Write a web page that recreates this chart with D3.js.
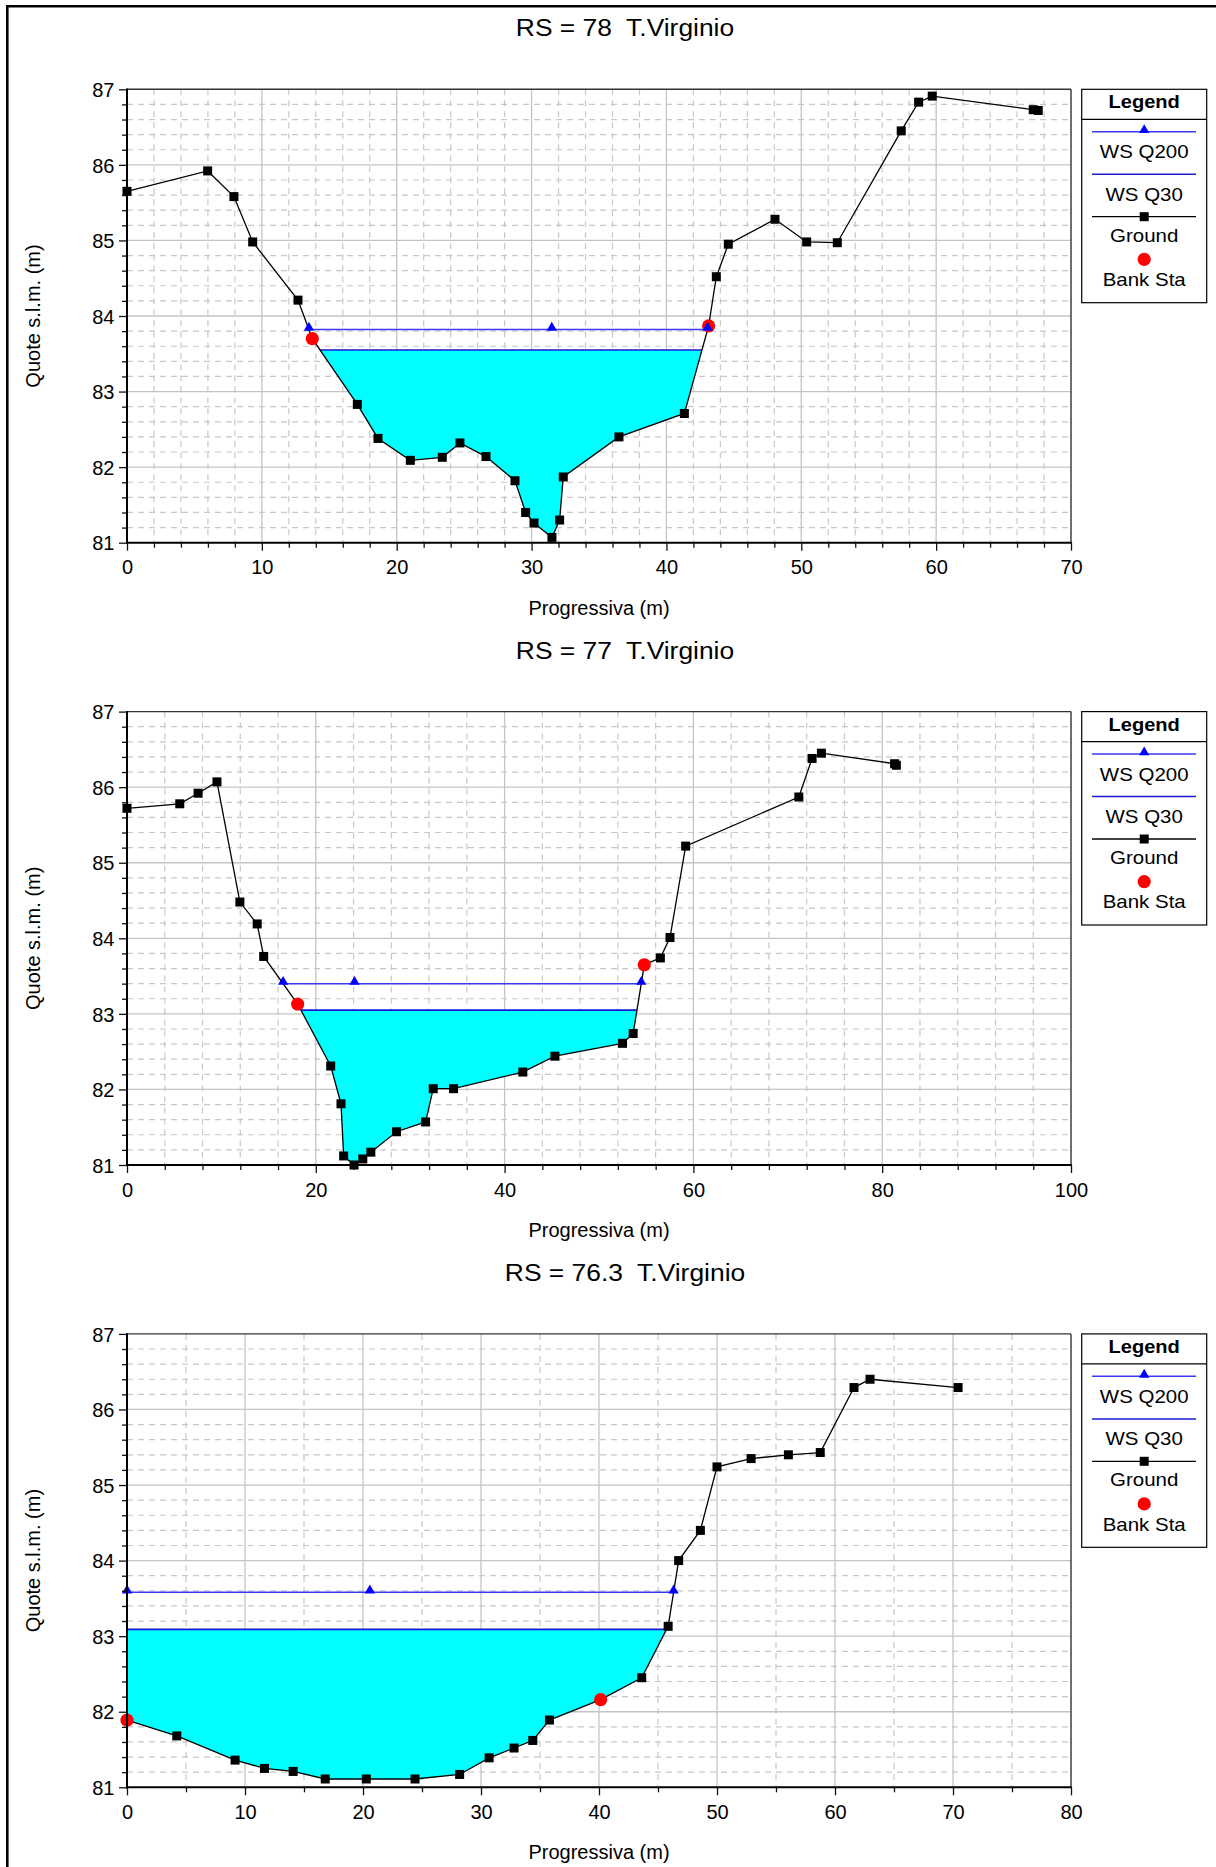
<!DOCTYPE html>
<html>
<head>
<meta charset="utf-8">
<script src="https://cdn.jsdelivr.net/npm/d3@7"></script>
<style>
  html, body { margin: 0; padding: 0; background: #fff; }
  svg { display: block; font-family: "Liberation Sans", Arial, sans-serif; }
  .keep-spaces { white-space: pre; }
</style>
</head>
<body>
<svg id="chart" width="1216" height="1867"></svg>
<script>
// ---- Cross section RS = 78 ----
const rs78Station = [0, 5.98, 7.93, 9.32, 12.68, 13.74, 17.08, 18.61, 21.01, 23.38, 24.69, 26.62, 28.77, 29.56, 30.18, 31.51, 32.08, 32.35, 36.48, 41.33, 43.13, 43.70, 44.59, 48.05, 50.40, 52.67, 57.41, 58.70, 59.71, 67.20, 67.57];
const rs78Ground  = [85.65, 85.92, 85.58, 84.98, 84.21, 83.70, 82.83, 82.38, 82.09, 82.13, 82.32, 82.14, 81.82, 81.40, 81.26, 81.07, 81.30, 81.87, 82.40, 82.71, 83.87, 84.52, 84.95, 85.28, 84.98, 84.97, 86.45, 86.83, 86.91, 86.73, 86.72];
const rs78Banks = [13.74, 43.13];
const rs78WsQ200 = 83.82;
const rs78WsQ30 = 83.55;
const rs78Q200Mid = 31.5;
const rs78StationTicks = [0, 10, 20, 30, 40, 50, 60, 70];

// ---- Cross section RS = 77 ----
const rs77Station = [0, 5.59, 7.53, 9.53, 11.96, 13.79, 14.48, 18.08, 21.58, 22.67, 22.95, 24.05, 24.98, 25.83, 28.55, 31.63, 32.44, 34.59, 41.93, 45.33, 52.49, 53.62, 54.80, 56.50, 57.52, 59.18, 71.17, 72.57, 73.56, 81.31, 81.50];
const rs77Ground  = [85.72, 85.78, 85.92, 86.07, 84.48, 84.19, 83.76, 83.13, 82.31, 81.81, 81.12, 81.00, 81.08, 81.17, 81.44, 81.57, 82.01, 82.01, 82.23, 82.44, 82.61, 82.74, 83.65, 83.74, 84.01, 85.22, 85.87, 86.38, 86.45, 86.31, 86.29];
const rs77Banks = [18.08, 54.80];
const rs77WsQ200 = 83.40;
const rs77WsQ30 = 83.05;
const rs77Q200Mid = 24.1;
const rs77StationTicks = [0, 20, 40, 60, 80, 100];

// ---- Cross section RS = 76.3 ----
const rs763Station = [0, 4.22, 9.16, 11.65, 14.08, 16.80, 20.28, 24.41, 28.19, 30.69, 32.80, 34.39, 35.80, 40.14, 43.62, 45.86, 46.75, 48.59, 50.00, 52.89, 56.05, 58.75, 61.61, 62.97, 70.43];
const rs763Ground  = [81.89, 81.68, 81.36, 81.25, 81.21, 81.11, 81.11, 81.11, 81.17, 81.39, 81.52, 81.62, 81.89, 82.16, 82.45, 83.13, 84.00, 84.40, 85.24, 85.35, 85.40, 85.43, 86.29, 86.40, 86.29];
const rs763Banks = [0, 40.14];
const rs763WsQ200 = 83.58;
const rs763WsQ30 = 83.09;
const rs763Q200Mid = 20.58;
const rs763StationTicks = [0, 10, 20, 30, 40, 50, 60, 70, 80];

// ---- Shared axis values and legend entries ----
const elevationTicks = [81, 82, 83, 84, 85, 86, 87];
const legendLabels = ["WS Q200", "WS Q30", "Ground", "Bank Sta"];

const sections = [
  { title: "RS = 78  T.Virginio",   sta: rs78Station,  z: rs78Ground,  banks: rs78Banks,  q200: rs78WsQ200,  q30: rs78WsQ30,  mid: rs78Q200Mid,  ticks: rs78StationTicks,  minorStep: 2 },
  { title: "RS = 77  T.Virginio",   sta: rs77Station,  z: rs77Ground,  banks: rs77Banks,  q200: rs77WsQ200,  q30: rs77WsQ30,  mid: rs77Q200Mid,  ticks: rs77StationTicks,  minorStep: 4 },
  { title: "RS = 76.3  T.Virginio", sta: rs763Station, z: rs763Ground, banks: rs763Banks, q200: rs763WsQ200, q30: rs763WsQ30, mid: rs763Q200Mid, ticks: rs763StationTicks, minorStep: 5 }
];

const svg = d3.select("#chart");
const W = 1216, H = 1867;

// page frame (left and top rules)
svg.append("line").attr("x1", 7.3).attr("x2", 7.3).attr("y1", 5).attr("y2", H)
  .attr("stroke", "#000").attr("stroke-width", 2.6);
svg.append("line").attr("x1", 6).attr("x2", W).attr("y1", 6.2).attr("y2", 6.2)
  .attr("stroke", "#000").attr("stroke-width", 2.6);

const plotLeft = 127, plotRight = 1071;
const firstTop = 89.3, plotH = 453.4, pitch = 622.3;
const legendX = 1081.7, legendW = 125, legendH = 213.4;

const COL = {
  grid: "#c4c4c4", minor: "#c8c8c8", water: "#00ffff",
  q200: "#3a3af5", q30: "#1818d8", marker: "#0000ff", bank: "#ff0000"
};
const SQ = 9;       // ground marker side
const BANK_R = 6.6; // bank station marker radius

// wetted extent of a water level over the ground profile, searched outward from the thalweg
function wetExtent(sta, z, ws) {
  const iMin = d3.minIndex(z);
  let iL = iMin, iR = iMin, xL, xR;
  while (iL > 0 && z[iL - 1] < ws) iL--;
  if (iL === 0) xL = sta[0];
  else { const t = (ws - z[iL - 1]) / (z[iL] - z[iL - 1]); xL = sta[iL - 1] + t * (sta[iL] - sta[iL - 1]); }
  while (iR < z.length - 1 && z[iR + 1] < ws) iR++;
  if (iR === z.length - 1) xR = sta[z.length - 1];
  else { const t = (ws - z[iR]) / (z[iR + 1] - z[iR]); xR = sta[iR] + t * (sta[iR + 1] - sta[iR]); }
  return { iL, iR, xL, xR };
}

function groundAt(sta, z, x) {
  return d3.scaleLinear().domain(sta).range(z)(x);
}

const triangle = d3.symbol().type(d3.symbolTriangle).size(46);

sections.forEach((s, k) => {
  const top = firstTop + k * pitch, bottom = top + plotH;
  const xMax = s.ticks[s.ticks.length - 1];
  const x = d3.scaleLinear().domain([0, xMax]).range([plotLeft, plotRight]);
  const y = d3.scaleLinear().domain([81, 87]).range([bottom, top]);
  const g = svg.append("g");

  // title
  g.append("text").attr("class", "keep-spaces")
    .attr("transform", `translate(${625},${top - 53}) scale(1.1,1)`)
    .attr("text-anchor", "middle").attr("font-size", 24).attr("fill", "#000")
    .text(s.title);

  // minor grid
  const xMinor = d3.range(0, xMax + 1e-9, s.minorStep).filter(v => !s.ticks.includes(v));
  const yMinor = d3.range(81, 87.0001, 0.2).map(v => +v.toFixed(1)).filter(v => !elevationTicks.includes(v));
  g.selectAll(".vminor").data(xMinor).join("line")
    .attr("x1", d => x(d)).attr("x2", d => x(d)).attr("y1", top).attr("y2", bottom)
    .attr("stroke", COL.minor).attr("stroke-width", 1.2).attr("stroke-dasharray", "6,5");
  g.selectAll(".hminor").data(yMinor).join("line")
    .attr("x1", plotLeft).attr("x2", plotRight).attr("y1", d => y(d)).attr("y2", d => y(d))
    .attr("stroke", COL.minor).attr("stroke-width", 1.2).attr("stroke-dasharray", "6,5");
  // major grid
  g.selectAll(".vmajor").data(s.ticks.slice(1, -1)).join("line")
    .attr("x1", d => x(d)).attr("x2", d => x(d)).attr("y1", top).attr("y2", bottom)
    .attr("stroke", COL.grid).attr("stroke-width", 1.3);
  g.selectAll(".hmajor").data(elevationTicks.slice(1, -1)).join("line")
    .attr("x1", plotLeft).attr("x2", plotRight).attr("y1", d => y(d)).attr("y2", d => y(d))
    .attr("stroke", COL.grid).attr("stroke-width", 1.3);

  // water fill for WS Q30
  const w30 = wetExtent(s.sta, s.z, s.q30);
  const poly = [[w30.xL, s.q30]];
  for (let i = w30.iL; i <= w30.iR; i++) poly.push([s.sta[i], s.z[i]]);
  poly.push([w30.xR, s.q30]);
  g.append("path")
    .attr("d", d3.line().x(d => x(d[0])).y(d => y(d[1]))(poly) + "Z")
    .attr("fill", COL.water).attr("stroke", "none");
  g.append("line")
    .attr("x1", x(w30.xL)).attr("x2", x(w30.xR)).attr("y1", y(s.q30)).attr("y2", y(s.q30))
    .attr("stroke", COL.q30).attr("stroke-width", 1.6);

  // WS Q200 line
  const w200 = wetExtent(s.sta, s.z, s.q200);
  g.append("line")
    .attr("x1", x(w200.xL)).attr("x2", x(w200.xR)).attr("y1", y(s.q200)).attr("y2", y(s.q200))
    .attr("stroke", COL.q200).attr("stroke-width", 1.5);

  // ground profile
  const pts = s.sta.map((v, i) => [v, s.z[i]]);
  g.append("path")
    .attr("d", d3.line().x(d => x(d[0])).y(d => y(d[1]))(pts))
    .attr("fill", "none").attr("stroke", "#000").attr("stroke-width", 1.3);
  g.selectAll(".gpt").data(pts).join("rect")
    .attr("x", d => x(d[0]) - SQ / 2).attr("y", d => y(d[1]) - SQ / 2)
    .attr("width", SQ).attr("height", SQ).attr("fill", "#000");

  // bank stations
  g.selectAll(".bank").data(s.banks).join("circle")
    .attr("cx", d => x(d)).attr("cy", d => y(groundAt(s.sta, s.z, d)))
    .attr("r", BANK_R).attr("fill", COL.bank);

  // WS Q200 markers
  g.selectAll(".tri").data([w200.xL, s.mid, w200.xR]).join("path")
    .attr("d", triangle)
    .attr("transform", d => `translate(${x(d)},${y(s.q200) - 1.8})`)
    .attr("fill", COL.marker);

  // plot frame: thin top/right, heavier axis lines
  g.append("line").attr("x1", plotLeft).attr("x2", plotRight).attr("y1", top).attr("y2", top)
    .attr("stroke", "#333").attr("stroke-width", 1.4);
  g.append("line").attr("x1", plotRight).attr("x2", plotRight).attr("y1", top).attr("y2", bottom)
    .attr("stroke", "#333").attr("stroke-width", 1.4);

  // x axis
  const xAxis = d3.axisBottom(x).tickValues(s.ticks).tickSize(8).tickPadding(9.5).tickFormat(d3.format("d"));
  const xAx = g.append("g").attr("transform", `translate(0,${bottom})`).call(xAxis);
  const xMinorAxis = d3.axisBottom(x).tickValues(xMinor).tickSize(5).tickFormat("");
  const xAxM = g.append("g").attr("transform", `translate(0,${bottom})`).call(xMinorAxis);
  // y axis
  const yAxis = d3.axisLeft(y).tickValues(elevationTicks).tickSize(8).tickPadding(4.5).tickFormat(d3.format("d"));
  const yAx = g.append("g").attr("transform", `translate(${plotLeft},0)`).call(yAxis);
  const yMinorAxis = d3.axisLeft(y).tickValues(yMinor).tickSize(5).tickFormat("");
  const yAxM = g.append("g").attr("transform", `translate(${plotLeft},0)`).call(yMinorAxis);

  [xAx, xAxM, yAx, yAxM].forEach(a => {
    a.select(".domain").remove();
    a.selectAll(".tick line").attr("stroke", "#111").attr("stroke-width", 1.3);
    a.selectAll("text").attr("font-size", 20).attr("fill", "#000")
      .attr("font-family", '"Liberation Sans", Arial, sans-serif');
  });
  yAx.selectAll("text").attr("dy", "0.36em");

  g.append("line").attr("x1", plotLeft).attr("x2", plotLeft).attr("y1", top - 0.7).attr("y2", bottom + 1)
    .attr("stroke", "#000").attr("stroke-width", 2);
  g.append("line").attr("x1", plotLeft - 1).attr("x2", plotRight + 0.7).attr("y1", bottom).attr("y2", bottom)
    .attr("stroke", "#000").attr("stroke-width", 2);

  // axis titles
  g.append("text").attr("x", (plotLeft + plotRight) / 2).attr("y", bottom + 72)
    .attr("text-anchor", "middle").attr("font-size", 20).attr("fill", "#000")
    .text("Progressiva (m)");
  g.append("text")
    .attr("transform", `translate(40,${(top + bottom) / 2}) rotate(-90)`)
    .attr("text-anchor", "middle").attr("font-size", 20).attr("fill", "#000")
    .text("Quote s.l.m. (m)");

  // legend
  const L = g.append("g").attr("transform", `translate(${legendX},${top})`);
  const cx = legendW / 2;
  L.append("rect").attr("x", 0).attr("y", 0).attr("width", legendW).attr("height", legendH)
    .attr("fill", "#fff").attr("stroke", "#000").attr("stroke-width", 1.2);
  L.append("text").attr("transform", `translate(${cx},19) scale(1.08,1)`)
    .attr("text-anchor", "middle").attr("font-size", 18.6).attr("font-weight", "bold").text("Legend");
  L.append("line").attr("x1", 0).attr("x2", legendW).attr("y1", 30).attr("y2", 30)
    .attr("stroke", "#000").attr("stroke-width", 1.2);
  const lx1 = 10.3, lx2 = legendW - 10.7;
  // WS Q200
  L.append("line").attr("x1", lx1).attr("x2", lx2).attr("y1", 42.4).attr("y2", 42.4)
    .attr("stroke", COL.q200).attr("stroke-width", 1.5);
  L.append("path").attr("d", triangle).attr("transform", `translate(${cx},${40.8})`).attr("fill", COL.marker);
  // WS Q30
  L.append("line").attr("x1", lx1).attr("x2", lx2).attr("y1", 85).attr("y2", 85)
    .attr("stroke", COL.q30).attr("stroke-width", 1.5);
  // Ground
  L.append("line").attr("x1", lx1).attr("x2", lx2).attr("y1", 127.4).attr("y2", 127.4)
    .attr("stroke", "#000").attr("stroke-width", 1.3);
  L.append("rect").attr("x", cx - SQ / 2).attr("y", 127.4 - SQ / 2).attr("width", SQ).attr("height", SQ).attr("fill", "#000");
  // Bank Sta
  L.append("circle").attr("cx", cx).attr("cy", 170).attr("r", BANK_R).attr("fill", COL.bank);
  const labelY = [69, 111.4, 152.4, 196.7];
  L.selectAll(".lbl").data(legendLabels).join("text")
    .attr("transform", (d, i) => `translate(${cx},${labelY[i]}) scale(1.1,1)`)
    .attr("text-anchor", "middle").attr("font-size", 18.6).attr("fill", "#000")
    .text(d => d);
});
</script>
</body>
</html>
